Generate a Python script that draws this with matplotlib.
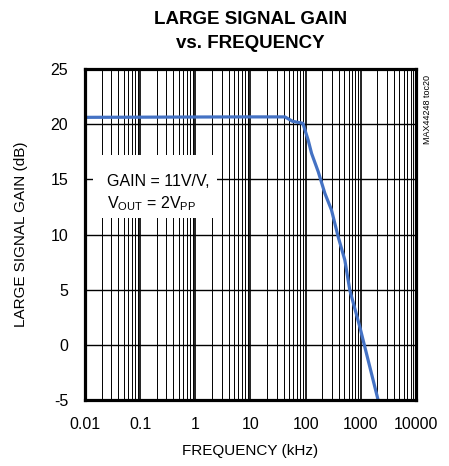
import numpy as np
import matplotlib
matplotlib.use("Agg")
import matplotlib.pyplot as plt
from matplotlib.ticker import FixedLocator, FixedFormatter, LogLocator, NullFormatter
from matplotlib.patches import Rectangle

plt.rcParams['font.family'] = ['Liberation Sans', 'DejaVu Sans']
plt.rcParams['mathtext.fontset'] = 'custom'
plt.rcParams['mathtext.rm'] = 'Liberation Sans'
plt.rcParams['mathtext.it'] = 'Liberation Sans:italic'
plt.rcParams['axes.unicode_minus'] = False

# gain curve
freq_khz = [0.01, 1, 10, 42, 58, 89, 111, 128, 169, 223, 294, 388, 513, 631, 957, 2056]
gain_db = [20.62, 20.65, 20.66, 20.66, 20.26, 20.08, 18.56, 17.35, 15.69, 13.73, 12.22, 9.8, 7.68, 4.96, 1.64, -5.0]

x_ticks = [0.01, 0.1, 1, 10, 100, 1000, 10000]
x_tick_labels = ['0.01', '0.1', '1', '10', '100', '1000', '10000']
y_ticks = [-5, 0, 5, 10, 15, 20, 25]

fig = plt.figure(figsize=(4.49, 4.66), dpi=100)
ax = fig.add_axes([0.1893, 0.1416, 0.7372, 0.7103])

ax.set_xscale('log')
ax.set_xlim(0.01, 10000)
ax.set_ylim(-5, 25)

ax.xaxis.set_major_locator(FixedLocator(x_ticks))
ax.xaxis.set_major_formatter(FixedFormatter(x_tick_labels))
ax.xaxis.set_minor_locator(LogLocator(base=10, subs=np.arange(2, 10)))
ax.xaxis.set_minor_formatter(NullFormatter())
ax.set_yticks(y_ticks)

ax.tick_params(which='both', length=0, labelsize=11.5)
ax.tick_params(axis='x', pad=12)
ax.tick_params(axis='y', pad=12)
ax.grid(which='major', axis='x', color='#222222', linewidth=1.4)
ax.grid(which='minor', axis='x', color='black', linewidth=0.7)
ax.grid(which='major', axis='y', color='black', linewidth=1.0)
ax.set_axisbelow(True)

for s in ax.spines.values():
    s.set_linewidth(2.3)
    s.set_zorder(5)

# white label box over the grid
ax.add_patch(Rectangle((0.024, 0.55), 0.375, 0.19, transform=ax.transAxes,
                       facecolor='white', edgecolor='none', zorder=2))
ax.text(0.065, 0.648, 'GAIN = 11V/V,', transform=ax.transAxes, fontsize=11.5, zorder=3)
ax.text(0.065, 0.578, r'V$_{\mathrm{OUT}}$ = 2V$_{\mathrm{PP}}$', transform=ax.transAxes,
        fontsize=11.5, zorder=3)

ax.plot(freq_khz, gain_db, color='#4472C4', linewidth=2.3, zorder=4)

ax.set_xlabel('FREQUENCY (kHz)', fontsize=11, labelpad=9)
ax.set_ylabel('LARGE SIGNAL GAIN (dB)', fontsize=11, labelpad=16)

fig.text(0.557, 0.976, 'LARGE SIGNAL GAIN\nvs. FREQUENCY', ha='center', va='top',
         fontsize=13.5, fontweight='bold', linespacing=1.55)

fig.text(0.953, 0.84, 'MAX44248 toc20', rotation=90, ha='center', va='top', fontsize=6.5)

fig.savefig('out.png', dpi=100)
